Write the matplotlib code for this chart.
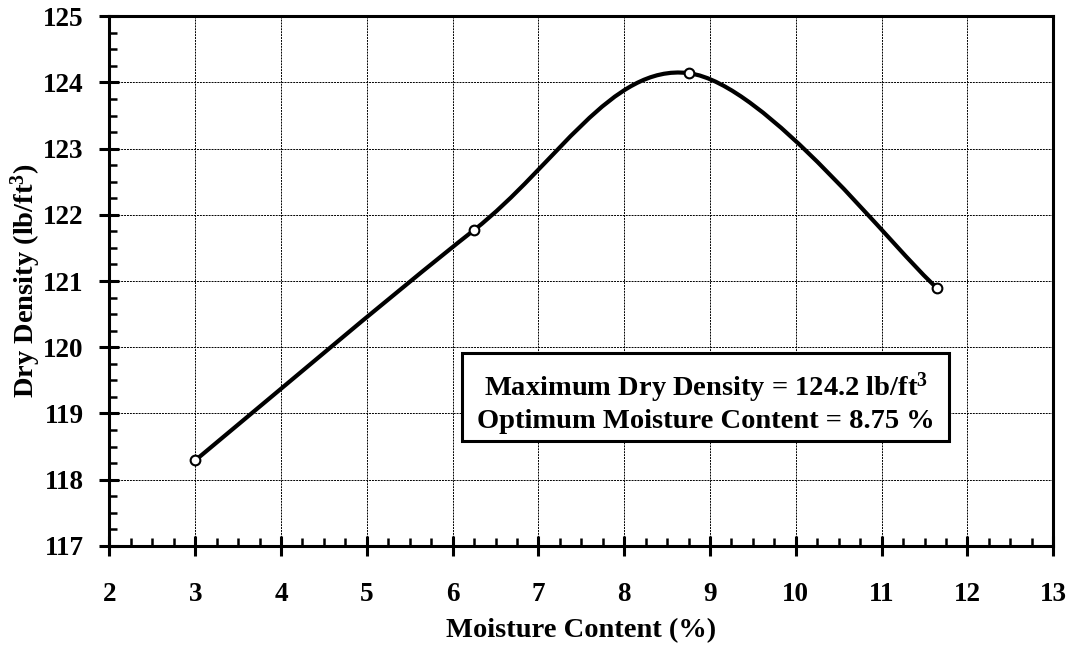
import numpy as np
import matplotlib
matplotlib.use("Agg")
import matplotlib.pyplot as plt
from matplotlib.path import Path
from matplotlib.patches import PathPatch, Rectangle
from matplotlib.ticker import MultipleLocator

# ---- data ----
moisture = [3.0, 6.25, 8.75, 11.65]          # %
dry_density = [118.29, 121.77, 124.14, 120.89]  # lb/ft^3
x_ticks = [2, 3, 4, 5, 6, 7, 8, 9, 10, 11, 12, 13]
y_ticks = [117, 118, 119, 120, 121, 122, 123, 124, 125]
max_dd = "124.2"
opt_mc = "8.75"

plt.rcParams['font.family'] = ['Liberation Serif', 'DejaVu Serif']
plt.rcParams['font.weight'] = 'bold'
plt.rcParams['mathtext.fontset'] = 'custom'
plt.rcParams['mathtext.rm'] = 'Liberation Serif:bold'
plt.rcParams['mathtext.bf'] = 'Liberation Serif:bold'
plt.rcParams['mathtext.it'] = 'Liberation Serif:bold'

fig = plt.figure(figsize=(10.78, 6.49), dpi=100)
ax = fig.add_axes([0.1015, 0.159, 0.8755, 0.816])

ax.set_xlim(2, 13)
ax.set_ylim(117, 125)

# smoothed line (Excel-style cubic Bezier smoothing through the points)
P = np.column_stack([moisture, dry_density])
n = len(P)
verts = [tuple(P[0])]
codes = [Path.MOVETO]
for i in range(n - 1):
    p0 = P[i - 1] if i > 0 else P[i]
    p1 = P[i]
    p2 = P[i + 1]
    p3 = P[i + 2] if i + 2 < n else P[i + 1]
    c1 = p1 + (p2 - p0) / 6.0
    c2 = p2 - (p3 - p1) / 6.0
    verts += [tuple(c1), tuple(c2), tuple(p2)]
    codes += [Path.CURVE4] * 3
ax.add_patch(PathPatch(Path(verts, codes), facecolor='none', edgecolor='black',
                       lw=3.0, zorder=3, capstyle='round', joinstyle='round'))

ax.plot(moisture, dry_density, linestyle='none', marker='o', markersize=7,
        markerfacecolor='white', markeredgecolor='black', markeredgewidth=1.5, zorder=4)

# ticks
ax.set_xticks(x_ticks)
ax.set_yticks(y_ticks)
ax.xaxis.set_minor_locator(MultipleLocator(0.25))
ax.yaxis.set_minor_locator(MultipleLocator(0.25))
ax.tick_params(which='major', direction='inout', length=14, width=2.2,
               labelsize=19.5, top=False, right=False)
ax.tick_params(axis='x', which='major', pad=19)
ax.tick_params(axis='y', which='major', pad=11.5)
ax.tick_params(which='minor', direction='in', length=6, width=1.8, top=False, right=False)
for lab in ax.get_xticklabels() + ax.get_yticklabels():
    lab.set_fontweight('bold')

for s in ax.spines.values():
    s.set_linewidth(2.2)

ax.grid(True, which='major', color='black', linestyle=(0, (2, 1)), linewidth=0.7)
ax.set_axisbelow(True)

ax.set_xlabel('Moisture Content (%)', fontsize=20.5, fontweight='bold', labelpad=8)
ax.set_ylabel('Dry Density (lb/ft$^3$)', fontsize=20.5, fontweight='bold', labelpad=0)

# annotation box
ax.add_patch(Rectangle((6.11, 118.58), 11.79 - 6.11, 119.92 - 118.58, facecolor='white',
                       edgecolor='black', lw=2.2, zorder=5))
ax.text(8.95, 119.17, f'Maximum Dry Density = {max_dd} lb/ft$^3$\nOptimum Moisture Content = {opt_mc} %',
        ha='center', va='center', fontsize=20.5, fontweight='bold', linespacing=1.17, zorder=6)

fig.savefig('out.png', dpi=100)
